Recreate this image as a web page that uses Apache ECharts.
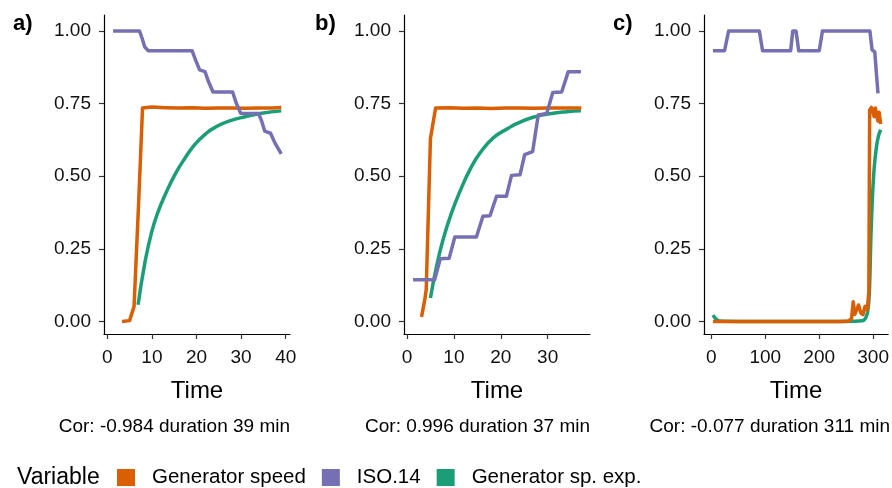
<!DOCTYPE html>
<html><head><meta charset="utf-8">
<script src="https://cdn.jsdelivr.net/npm/echarts@6/dist/echarts.min.js"></script>
<style>html,body{margin:0;padding:0;background:#fff}#c{width:892px;height:488px}</style>
</head><body><div id="c"></div>
<script>
// ---- data (time [min], scaled value) ----
const seriesNames = ['Generator speed', 'ISO.14', 'Generator sp. exp.'];
const yTicks = [0, 0.25, 0.5, 0.75, 1.0];
const xTicksA = [0, 10, 20, 30, 40];
const xTicksB = [0, 10, 20, 30];
const xTicksC = [0, 100, 200, 300];

const aSpeed = [[3.3,0],[5.0,0.003],[6.0,0.052],[7.0,0.40],[7.9,0.735],[10,0.738],[13,0.736],[16,0.735],[19,0.736],[22,0.734],[25,0.735],[28,0.735],[31,0.734],[34,0.735],[37,0.735],[39,0.737]];
const aIso = [[1.3,1.0],[7.2,1.0],[7.8,0.975],[8.4,0.945],[9.2,0.932],[19.0,0.932],[19.8,0.90],[20.7,0.866],[21.9,0.86],[22.7,0.825],[23.7,0.79],[28.1,0.79],[28.9,0.752],[29.9,0.717],[33.9,0.716],[34.6,0.69],[35.3,0.655],[36.6,0.648],[37.6,0.614],[39.0,0.577]];
const aExp = [[6.9,0.058],[8.4,0.20],[9.9,0.305],[11.4,0.378],[13.2,0.444],[15.1,0.504],[17.4,0.562],[19.6,0.609],[22.2,0.648],[24.6,0.672],[27.1,0.689],[30.9,0.705],[34.6,0.717],[39.0,0.725]];

const bSpeed = [[3.1,0.016],[3.8,0.076],[4.1,0.11],[5.0,0.63],[6.1,0.735],[9,0.736],[12,0.734],[15,0.735],[18,0.733],[21,0.735],[24,0.735],[27,0.734],[30,0.735],[33,0.735],[37.2,0.735]];
const bIso = [[1.3,0.144],[5.9,0.144],[7.1,0.216],[9.0,0.218],[10.2,0.291],[14.8,0.291],[16.2,0.362],[17.7,0.364],[19.1,0.431],[21.2,0.431],[22.3,0.503],[24.1,0.505],[25.1,0.574],[26.8,0.585],[28.0,0.711],[29.8,0.716],[31.1,0.788],[33.0,0.79],[34.4,0.86],[37.1,0.86]];
const bExp = [[5.0,0.081],[6.3,0.19],[7.7,0.282],[9.5,0.374],[11.3,0.448],[13.4,0.522],[15.5,0.578],[18.4,0.632],[21.6,0.665],[23.4,0.681],[26.9,0.703],[30.5,0.715],[34.1,0.722],[37.1,0.725]];

const cSpeed = [[3,0],[60,0],[120,0],[180,0],[240,0],[255,0.002],[260,0.01],[263,0.068],[266,0.025],[269,0.028],[273,0.057],[277,0.03],[281,0.024],[285,0.052],[289,0.04],[292,0.1],[293.5,0.728],[297,0.737],[300,0.735],[302,0.705],[304,0.735],[307,0.73],[309,0.69],[311,0.72],[314,0.68]];
const cIso = [[3,0.932],[24.5,0.932],[32,1.0],[89,1.0],[95,0.932],[147,0.932],[151,1.0],[157,1.0],[162,0.932],[200,0.932],[206,1.0],[294,1.0],[298,0.935],[303,0.928],[306,0.855],[309,0.785]];
const cExp = [[3,0.022],[8,0.01],[15,0.002],[100,0],[200,0],[280,0.003],[286,0.012],[290,0.035],[293,0.1],[296,0.3],[299,0.44],[302,0.53],[306,0.6],[310,0.64],[314,0.66]];

const tags = ['a)', 'b)', 'c)'];
const captions = ['Cor: -0.984 duration 39 min', 'Cor: 0.996 duration 37 min', 'Cor: -0.077 duration 311 min'];

// ---- layout / style ----
const FONT = 'Liberation Sans, Arial, sans-serif';
const colors = {speed: '#D95F02', iso: '#7570B3', exp: '#1B9E77'};
const panels = [
  {left: 104, xMin: -0.74, xMax: 40.96, ticks: xTicksA, tagLeft: 13, speed: aSpeed, iso: aIso, exp: aExp, smoothExp: 0.5},
  {left: 404, xMin: -0.64, xMax: 39.04, ticks: xTicksB, tagLeft: 315, speed: bSpeed, iso: bIso, exp: bExp, smoothExp: 0.5},
  {left: 704, xMin: -13.6, xMax: 327.8, ticks: xTicksC, tagLeft: 613, speed: cSpeed, iso: cIso, exp: cExp, smoothExp: 0.3}
];
const W = 186, TOP = 15, H = 319;

const grid = [], xAxis = [], yAxis = [], series = [], title = [];
panels.forEach((p, i) => {
  grid.push({left: p.left, top: TOP, width: W, height: H});
  xAxis.push({
    type: 'value', gridIndex: i, min: p.xMin, max: p.xMax,
    name: 'Time', nameLocation: 'middle', nameGap: 45,
    nameTextStyle: {fontSize: 24, color: '#000', fontFamily: FONT},
    axisLine: {onZero: false, lineStyle: {color: '#000', width: 1.2}},
    axisTick: {customValues: p.ticks, length: 5, lineStyle: {color: '#333', width: 1.2}},
    axisLabel: {customValues: p.ticks, margin: 14, fontSize: 19, color: '#111', fontFamily: FONT},
    splitLine: {show: false}
  });
  yAxis.push({
    type: 'value', gridIndex: i, min: -0.043, max: 1.055,
    axisLine: {onZero: false, lineStyle: {color: '#000', width: 1.2}},
    axisTick: {customValues: yTicks, length: 5, lineStyle: {color: '#333', width: 1.2}},
    axisLabel: {customValues: yTicks, margin: 13, fontSize: 19, color: '#111', fontFamily: FONT,
      formatter: v => Number(v).toFixed(2)},
    splitLine: {show: false}
  });
  const mk = (name, data, color, z, smooth) => ({
    type: 'line', name, data, xAxisIndex: i, yAxisIndex: i, showSymbol: false, symbol: 'none',
    smooth: smooth || false,
    lineStyle: {color, width: 3.5, cap: 'butt', join: 'round'}, itemStyle: {color},
    z, silent: true, emphasis: {disabled: true}
  });
  series.push(mk(seriesNames[2], p.exp, colors.exp, 2, p.smoothExp));
  series.push(mk(seriesNames[0], p.speed, colors.speed, 3, 0));
  series.push(mk(seriesNames[1], p.iso, colors.iso, 4, 0));
  title.push({text: tags[i], left: p.tagLeft, top: 13, padding: 0,
    textStyle: {fontSize: 22, fontWeight: 'bold', color: '#000', fontFamily: FONT}});
  title.push({text: captions[i], right: 892 - (p.left + W), top: 417, padding: 0,
    textStyle: {fontSize: 19, fontWeight: 'normal', color: '#000', fontFamily: FONT}});
});
title.push({text: 'Variable', left: 17, top: 466, padding: 0,
  textStyle: {fontSize: 23, fontWeight: 'normal', color: '#000', fontFamily: FONT}});

const chart = echarts.init(document.getElementById('c'), null, {renderer: 'canvas'});
chart.setOption({
  animation: false,
  backgroundColor: '#fff',
  title, grid, xAxis, yAxis, series,
  legend: {
    data: seriesNames, left: 117, top: 467, padding: 0, orient: 'horizontal',
    icon: 'rect', itemWidth: 18, itemHeight: 17, itemGap: 16, selectedMode: false,
    textStyle: {fontSize: 20.5, color: '#000', fontFamily: FONT, padding: [0, 0, 0, 12]}
  }
});
</script></body></html>
